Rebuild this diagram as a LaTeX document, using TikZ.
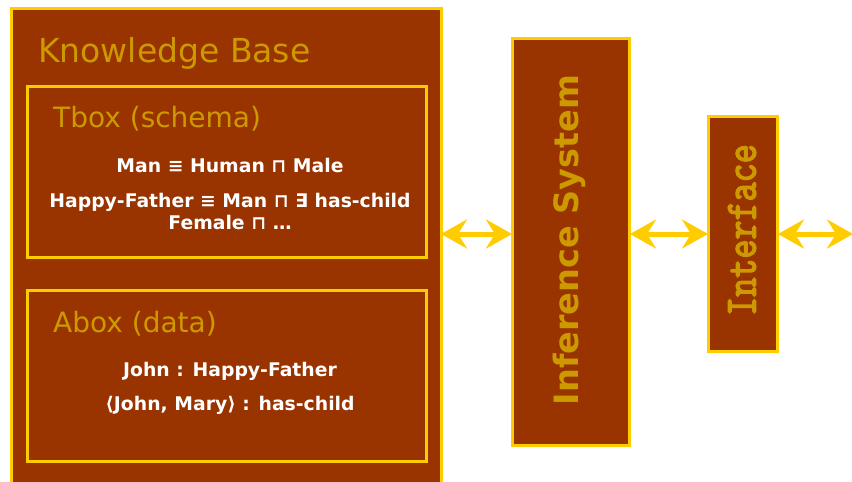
\documentclass[tikz,border=0pt]{standalone}
\usepackage{fontspec}
\usepackage{graphicx}
\setmainfont{DejaVu Sans}
\newfontfamily\monob{Latin Modern Mono}[FakeBold=3.5]
\usetikzlibrary{arrows.meta}
\definecolor{brn}{HTML}{993300}
\definecolor{ylw}{HTML}{FFCC00}
\definecolor{gld}{HTML}{CC9900}
\tikzset{
  box/.style={draw=ylw, fill=brn, line width=3pt},
  ttl/.style={text=gld, anchor=base west, inner sep=0pt},
  rule/.style={text=white, font=\bfseries\fontsize{18.8}{20}\selectfont, inner sep=0pt, anchor=base},
  dbl/.style={draw=ylw, line width=5pt, {Stealth[length=26pt,width=29pt,inset=9pt]}-{Stealth[length=26pt,width=29pt,inset=9pt]}, shorten <=-1pt, shorten >=-1pt}
}
\begin{document}
\begin{tikzpicture}[x=1pt,y=-1pt]
\useasboundingbox (0,0) rectangle (852,482);
\clip (0,0) rectangle (852,482);
\fill[white] (0,0) rectangle (852,482);
% Knowledge base
\draw[box] (11,8) rectangle (441,500);
\node[ttl, font=\fontsize{33}{35}\selectfont] (kbt) at (38,62) {Knowledge Base};
% Tbox
\draw[box] (27,86) rectangle (426,257);
\node[ttl, font=\fontsize{28}{30}\selectfont] (tbt) at (53,127) {Tbox (schema)};
\node[rule] (r1) at (230,172) {Man ≡ Human ⊓ Male};
\node[rule] (r2) at (230,207) {Happy-Father ≡ Man ⊓ ∃ has-child};
\node[rule] (r3) at (230,229) {Female ⊓ …};
% Abox
\draw[box] (27,290) rectangle (426,461);
\node[ttl, font=\fontsize{28}{30}\selectfont] (abt) at (53,332) {Abox (data)};
\node[rule] (a1) at (230,376) {John : Happy-Father};
\node[rule] (a2) at (230,410) {⟨John, Mary⟩ : has-child};
% Inference system
\node[box, minimum width=117pt, minimum height=407pt, inner sep=0pt] (inf) at (571,242) {};
\node[text=gld, rotate=90, font=\bfseries\fontsize{33.5}{35}\selectfont, inner sep=0pt] (inft) at (569,240) {Inference System};
% Interface
\node[box, minimum width=69pt, minimum height=235pt, inner sep=0pt] (ifc) at (743,234) {};
\node[text=gld, rotate=90, font=\monob\fontsize{37}{39}\selectfont, inner sep=0pt] (ifct) at (742,230) {\scalebox{1}[1.2]{Interface}};
% arrows
\coordinate (kbr) at (442,234);
\coordinate (infl) at (511,234);
\coordinate (infr) at (631,234);
\coordinate (ifcl) at (707,234);
\coordinate (ifcr) at (779,234);
\coordinate (out) at (852,234);
\draw[dbl] (kbr) -- (infl);
\draw[dbl] (infr) -- (ifcl);
\draw[dbl] (ifcr) -- (out);
\end{tikzpicture}
\end{document}
